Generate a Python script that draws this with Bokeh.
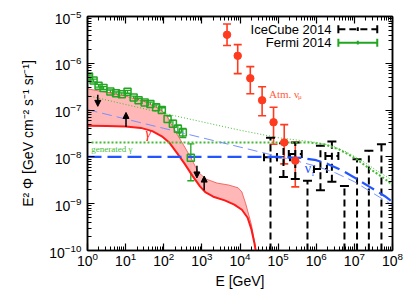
import numpy as np
from bokeh.plotting import figure
from bokeh.models import (LogAxis, FixedTicker, LogTickFormatter, Whisker, TeeHead,
                          ColumnDataSource, Arrow, NormalHead, Label, CustomJSTickFormatter)
from bokeh.embed import file_html
from bokeh.resources import INLINE

# ---------------- data: log10(E / GeV) and log10(E^2 Phi) ----------------
x_ticks_exp = [0, 1, 2, 3, 4, 5, 6, 7, 8]
y_ticks_exp = [-10, -9, -8, -7, -6, -5]

# Fermi 2014
fermi_logE = [0.04, 0.16, 0.29, 0.42, 0.60, 0.75, 0.90, 1.05, 1.21, 1.34,
              1.50, 1.65, 1.80, 1.95, 2.10, 2.24, 2.37, 2.50, 2.71]
fermi_logF = [-6.28, -6.37, -6.48, -6.53, -6.60, -6.64, -6.66, -6.61, -6.73, -6.79,
              -6.84, -6.87, -6.94, -7.00, -7.19, -7.29, -7.40, -7.48, -8.02]
fermi_up = [0.03, 0.03, 0.03, 0.03, 0.03, 0.03, 0.03, 0.03, 0.03, 0.04,
            0.04, 0.04, 0.05, 0.05, 0.06, 0.07, 0.08, 0.09, 0.30]
fermi_dn = [0.03, 0.03, 0.03, 0.03, 0.03, 0.03, 0.03, 0.03, 0.03, 0.04,
            0.04, 0.04, 0.05, 0.05, 0.07, 0.08, 0.09, 0.11, 0.49]

# Atmospheric nu_mu
atm_logE = [3.66, 3.94, 4.27, 4.58, 4.88, 5.16, 5.45]
atm_logF = [-5.39, -5.84, -6.32, -6.79, -7.26, -7.69, -8.08]
atm_hi = [-5.16, -5.60, -6.07, -6.50, -6.94, -7.31, -7.69]
atm_lo = [-5.62, -6.22, -6.65, -7.12, -7.73, -8.15, -8.64]

# IceCube 2014: measured points
ic_logE = [4.80, 5.14, 5.45, 6.11, 6.41]
ic_logF = [-8.01, -8.01, -7.94, -8.26, -7.98]
ic_hi = [-7.59, -7.71, -7.69, -7.76, -7.67]
ic_lo = [-10.0, -8.43, -8.47, -8.71, -8.53]
ic_halfbin = [0.17, 0.17, 0.17, 0.17, 0.17]
# IceCube 2014: upper limits
icul_logE = [5.77, 6.74, 7.07, 7.38, 7.71]
icul_logF = [-8.51, -8.62, -8.05, -7.87, -7.73]

# gamma-ray band (red)
band_up_logE = [0.0, 0.5, 1.0, 1.5, 1.9, 2.1, 2.3, 2.5, 2.7, 2.9, 3.1, 3.4, 3.7,
                3.95, 4.05, 4.15, 4.3, 4.4, 4.47]
band_up_logF = [-6.545, -6.62, -6.70, -6.82, -6.98, -7.15, -7.45, -7.72, -8.00, -8.32,
                -8.47, -8.56, -8.60, -8.66, -8.75, -9.00, -9.45, -9.90, -10.3]
band_lo_logE = [0.0, 0.5, 1.0, 1.4, 1.7, 1.95, 2.15, 2.35, 2.55, 2.75, 2.95, 3.1,
                3.3, 3.6, 3.85, 4.05, 4.2, 4.3, 4.38, 4.47]
band_lo_logF = [-7.335, -7.34, -7.35, -7.38, -7.45, -7.56, -7.70, -7.92, -8.15, -8.40,
                -8.63, -8.76, -8.85, -8.93, -9.02, -9.13, -9.30, -9.55, -9.85, -10.3]

# neutrino models (blue)
nui_logE = [0.0, 5.0, 5.6, 6.0, 6.3, 6.7, 7.0, 7.4, 7.8, 8.0]
nui_logF = [-8.00, -8.00, -8.02, -8.07, -8.15, -8.30, -8.44, -8.64, -8.84, -8.96]
nu22_logE = [0.0, 1.0, 2.0, 3.0, 4.0, 5.0, 5.5, 6.0, 6.5, 7.0, 7.5, 8.0]
nu22_logF = [-6.99, -7.19, -7.39, -7.59, -7.79, -7.99, -8.09, -8.20, -8.34, -8.53, -8.78, -9.03]

# gamma models (green dotted)
gen_logE = [0.0, 5.8, 6.2, 6.6, 7.0, 7.4, 7.8, 8.0]
gen_logF = [-7.69, -7.69, -7.73, -7.84, -8.02, -8.25, -8.47, -8.60]
gam22_logE = [0.0, 1.0, 2.0, 3.0, 4.0, 5.0, 5.6, 6.0, 6.4, 6.8, 7.2, 7.6, 8.0]
gam22_logF = [-6.69, -6.88, -7.07, -7.25, -7.43, -7.59, -7.65, -7.69, -7.76, -7.90,
              -8.08, -8.30, -8.50]

# arrows
arr_logE = [0.27, 1.01, 2.87, 3.06]
arr_from = [-6.67, -7.36, -8.19, -8.71]
arr_to = [-6.92, -7.05, -8.45, -8.41]


def P(a):
    return 10.0 ** np.asarray(a, dtype=float)


RED = "#ff1a1a"
GREEN = "#22a622"
LGREEN = "#44bb33"
BLUE = "#2255ff"
LBLUE = "#7790ff"
ORANGE = "#ff3b1f"
SANS = "Liberation Sans"
SERIF = "Liberation Serif"

p = figure(width=410, height=291, x_axis_type="log", y_axis_type="log",
           x_range=(1, 1e8), y_range=(1e-10, 1e-5), output_backend="svg",
           toolbar_location=None, min_border_left=87, min_border_right=18,
           min_border_top=16, min_border_bottom=41)
p.xgrid.visible = False
p.ygrid.visible = False
p.outline_line_color = "black"
p.outline_line_width = 1.5
p.background_fill_color = "white"
p.border_fill_color = "white"

xmaj = [10.0 ** k for k in x_ticks_exp]
xmin = [m * 10.0 ** k for k in x_ticks_exp[:-1] for m in range(2, 10)]
ymaj = [10.0 ** k for k in y_ticks_exp]
ymin = [m * 10.0 ** k for k in y_ticks_exp[:-1] for m in range(2, 10)]


def style_axis(ax, show_labels):
    ax.axis_line_color = "black"
    ax.axis_line_width = 1.5
    ax.major_tick_in = 7
    ax.major_tick_out = 0
    ax.minor_tick_in = 4
    ax.minor_tick_out = 0
    ax.major_tick_line_width = 1.2
    ax.minor_tick_line_width = 1
    ax.major_tick_line_color = "black"
    ax.minor_tick_line_color = "black"
    if show_labels:
        ax.major_label_text_font = SANS
        ax.major_label_text_font_size = "14px"
        ax.major_label_text_color = "black"
        ax.axis_label_text_font = SANS
        ax.axis_label_text_font_size = "14px"
        ax.axis_label_text_font_style = "normal"
        ax.axis_label_text_color = "black"
    else:
        ax.formatter = CustomJSTickFormatter(code="return ''")
        ax.major_label_standoff = 0


for ax in p.xaxis:
    ax.ticker = FixedTicker(ticks=xmaj, minor_ticks=xmin)
    ax.formatter = LogTickFormatter()
    style_axis(ax, True)
    ax.axis_label = "E [GeV]"
    ax.major_label_standoff = 1
    ax.axis_label_standoff = 4
for ax in p.yaxis:
    ax.ticker = FixedTicker(ticks=ymaj, minor_ticks=ymin)
    ax.formatter = LogTickFormatter()
    style_axis(ax, True)
    ax.axis_label = "E\u00b2 \u03a6 [GeV cm\u207b\u00b2 s\u207b\u00b9 sr\u207b\u00b9]"
    ax.major_label_standoff = 6
    ax.axis_label_standoff = 10

top = LogAxis(ticker=FixedTicker(ticks=xmaj, minor_ticks=xmin))
style_axis(top, False)
p.add_layout(top, "above")
right = LogAxis(ticker=FixedTicker(ticks=ymaj, minor_ticks=ymin))
style_axis(right, False)
p.add_layout(right, "right")

# ---- red band ----
bx = np.concatenate([P(band_up_logE), P(band_lo_logE)[::-1]])
by = np.concatenate([P(band_up_logF), P(band_lo_logF)[::-1]])
p.patch(bx, by, fill_color="#ffb3b3", fill_alpha=0.95, line_color=None)
p.line(P(band_up_logE), P(band_up_logF), line_color="#e8403a", line_width=1, line_alpha=0.7)
p.line(P(band_lo_logE), P(band_lo_logF), line_color=RED, line_width=2)

# ---- model lines ----
p.line(P(gam22_logE), P(gam22_logF), line_color=LGREEN, line_width=1, line_dash="1 2")
p.line(P(gen_logE), P(gen_logF), line_color=LGREEN, line_width=2, line_dash="2 2")
p.line(P(nu22_logE), P(nu22_logF), line_color=LBLUE, line_width=1, line_dash="10 5")
p.line(P(nui_logE), P(nui_logF), line_color=BLUE, line_width=2.2, line_dash="14 6")

# ---- arrows ----
asrc = ColumnDataSource(dict(x=P(arr_logE), y0=P(arr_from), y1=P(arr_to)))
p.add_layout(Arrow(end=NormalHead(size=6, fill_color="black", line_color="black"),
                   x_start="x", y_start="y0", x_end="x", y_end="y1", source=asrc,
                   line_color="black", line_width=1.5))

# ---- Fermi ----
fsrc = ColumnDataSource(dict(x=P(fermi_logE), y=P(fermi_logF),
                             hi=P(np.array(fermi_logF) + np.array(fermi_up)),
                             lo=P(np.array(fermi_logF) - np.array(fermi_dn))))
p.add_layout(Whisker(source=fsrc, base="x", upper="hi", lower="lo", dimension="height",
                     line_color=GREEN, line_width=1.3,
                     upper_head=TeeHead(size=7, line_color=GREEN, line_width=1.3),
                     lower_head=TeeHead(size=7, line_color=GREEN, line_width=1.3)))
p.scatter("x", "y", source=fsrc, marker="square", size=7, fill_color=None,
          line_color=GREEN, line_width=1.5)

# ---- atmospheric nu_mu ----
asrc2 = ColumnDataSource(dict(x=P(atm_logE), y=P(atm_logF), hi=P(atm_hi), lo=P(atm_lo)))
p.add_layout(Whisker(source=asrc2, base="x", upper="hi", lower="lo", dimension="height",
                     line_color=ORANGE, line_width=1.6,
                     upper_head=TeeHead(size=8, line_color=ORANGE, line_width=1.6),
                     lower_head=TeeHead(size=8, line_color=ORANGE, line_width=1.6)))
p.scatter("x", "y", source=asrc2, marker="circle", size=7.5, fill_color=ORANGE,
          line_color=ORANGE)

# ---- IceCube ----
DASH = "7 4"
ic_has_lo = [lo > -10.0 for lo in ic_lo]
i_full = [i for i, f in enumerate(ic_has_lo) if f]
i_open = [i for i, f in enumerate(ic_has_lo) if not f]
E_ic = P(ic_logE)
src_full = ColumnDataSource(dict(x=E_ic[i_full], hi=P(ic_hi)[i_full], lo=P(ic_lo)[i_full]))
src_open = ColumnDataSource(dict(
    x=np.concatenate([E_ic[i_open], P(icul_logE)]),
    hi=np.concatenate([P(ic_hi)[i_open], P(icul_logF)]),
    lo=np.concatenate([P(ic_lo)[i_open], np.full(len(icul_logE), 1e-10)])))
for src, lowhead in ((src_full, True), (src_open, False)):
    p.add_layout(Whisker(source=src, base="x", upper="hi", lower="lo", dimension="height",
                         line_color="black", line_width=2, line_dash=DASH,
                         upper_head=TeeHead(size=9, line_color="black", line_width=2),
                         lower_head=TeeHead(size=9, line_color="black", line_width=2) if lowhead else None))
hsrc = ColumnDataSource(dict(y=P(ic_logF),
                             l=P(np.array(ic_logE) - np.array(ic_halfbin)),
                             r=P(np.array(ic_logE) + np.array(ic_halfbin))))
p.add_layout(Whisker(source=hsrc, base="y", upper="r", lower="l", dimension="width",
                     line_color="black", line_width=2, line_dash=DASH,
                     upper_head=TeeHead(size=8, line_color="black", line_width=2),
                     lower_head=TeeHead(size=8, line_color="black", line_width=2)))

# ---- text labels ----
def lab(x, y, t, font, size, color, style="normal", align="left"):
    p.add_layout(Label(x=10 ** x, y=10 ** y, text=t, text_font=font, text_font_size=size,
                       text_color=color, text_font_style=style, text_baseline="middle",
                       text_align=align))

lab(1.52, -7.50, "\u03b3", SERIF, "14px", RED, "italic")
lab(0.10, -7.83, "generated \u03b3", SERIF, "9px", LGREEN)
lab(4.76, -6.65, "Atm. \u03bd", SERIF, "11px", "#ff6040")
lab(5.52, -6.71, "\u03bc", SERIF, "7px", "#ff6040")
lab(5.70, -8.25, "\u03bd", SERIF, "14px", BLUE)
lab(5.88, -8.36, "i", SERIF, "8px", BLUE)

# ---- legend (manual, text left of sample) ----
lab(6.40, -5.27, "IceCube 2014", SANS, "13px", "black", align="right")
lab(6.40, -5.56, "Fermi 2014", SANS, "13px", "black", align="right")
lx0, lx1, lxm = 6.58, 7.60, 7.09
leg_ic = ColumnDataSource(dict(y=[10 ** -5.27], l=[10 ** lx0], r=[10 ** lx1]))
p.add_layout(Whisker(source=leg_ic, base="y", upper="r", lower="l", dimension="width",
                     line_color="black", line_width=2, line_dash=DASH,
                     upper_head=TeeHead(size=8, line_color="black", line_width=2),
                     lower_head=TeeHead(size=8, line_color="black", line_width=2)))
p.segment(x0=[10 ** lxm], x1=[10 ** lxm], y0=[10 ** -5.31], y1=[10 ** -5.23],
          line_color="black", line_width=2)
leg_fe = ColumnDataSource(dict(y=[10 ** -5.56], l=[10 ** lx0], r=[10 ** lx1]))
p.add_layout(Whisker(source=leg_fe, base="y", upper="r", lower="l", dimension="width",
                     line_color=GREEN, line_width=2,
                     upper_head=TeeHead(size=8, line_color=GREEN, line_width=2),
                     lower_head=TeeHead(size=8, line_color=GREEN, line_width=2)))
p.segment(x0=[10 ** lxm], x1=[10 ** lxm], y0=[10 ** -5.60], y1=[10 ** -5.52],
          line_color=GREEN, line_width=2)

open("out.html", "w").write(file_html(p, INLINE))
